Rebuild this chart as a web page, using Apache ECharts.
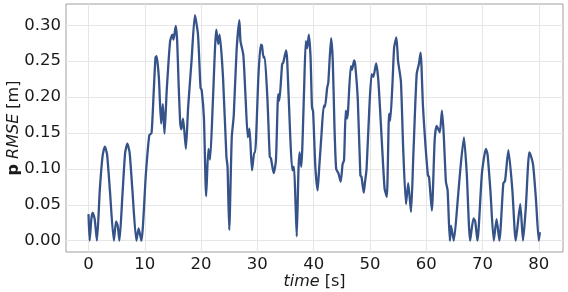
<!DOCTYPE html>
<html>
<head>
<meta charset="utf-8">
<script src="https://cdn.jsdelivr.net/npm/echarts@6/dist/echarts.min.js"></script>
<style>
html,body{margin:0;padding:0;background:#fff;}
#chart{width:568px;height:292px;}
</style>
</head>
<body>
<div id="chart"></div>
<script>
const timeValues = [0.0,0.2,0.5,0.76,1.1,1.5,2.0,2.5,2.9,3.3,3.8,4.5,4.9,5.2,5.5,6.0,6.5,6.9,7.3,7.8,8.5,8.9,9.4,10.2,10.8,11.2,11.6,11.9,12.1,12.5,12.9,13.2,13.5,13.9,14.5,14.9,15.1,15.5,15.75,16.0,16.3,16.5,16.8,17.3,17.7,18.3,18.9,19.45,19.9,20.1,20.5,20.9,21.3,21.6,22.1,22.7,23.05,23.3,23.9,24.5,24.7,25.0,25.45,25.8,26.3,26.8,27.0,27.5,27.9,28.3,28.6,29.05,29.45,29.6,30.2,30.6,30.8,31.1,31.3,31.8,32.2,32.4,32.9,33.3,33.7,33.9,34.4,34.6,35.1,35.3,35.8,36.2,36.5,36.8,37.0,37.3,37.5,37.8,38.3,38.6,38.85,39.15,39.45,39.7,39.9,40.3,40.7,41.0,41.4,41.8,42.0,42.4,42.6,43.1,43.4,43.7,44.0,44.4,44.8,45.15,45.4,45.7,45.9,46.1,46.6,46.8,47.2,47.4,47.85,48.3,48.5,48.9,49.1,49.4,49.9,50.3,50.6,51.1,51.5,52.1,52.6,53.0,53.4,53.6,54.0,54.3,54.7,55.0,55.5,55.9,56.4,56.8,57.3,57.7,58.3,58.7,59.0,59.15,59.4,59.8,60.3,60.5,61.0,61.5,61.85,62.4,62.8,63.1,63.5,63.8,64.2,64.4,64.9,65.6,66.1,66.7,67.2,67.8,68.4,68.7,69.1,69.9,70.6,70.9,71.4,72.0,72.5,73.0,73.7,74.0,74.6,75.3,75.9,76.7,77.2,77.7,78.3,78.6,79.0,79.5,80.0,80.2];
const rmseValues = [0.037,0.0,0.030,0.039,0.030,0.0,0.07,0.118,0.131,0.12,0.07,0.0,0.027,0.02,0.0,0.06,0.122,0.135,0.123,0.07,0.0,0.017,0.0,0.094,0.147,0.150,0.21,0.255,0.257,0.227,0.163,0.190,0.149,0.21,0.278,0.287,0.280,0.299,0.278,0.22,0.163,0.155,0.170,0.128,0.186,0.250,0.314,0.287,0.213,0.210,0.172,0.062,0.128,0.113,0.195,0.294,0.274,0.287,0.227,0.117,0.103,0.015,0.144,0.174,0.264,0.307,0.278,0.259,0.200,0.144,0.156,0.098,0.123,0.123,0.232,0.273,0.272,0.255,0.256,0.195,0.117,0.115,0.094,0.112,0.204,0.195,0.246,0.248,0.265,0.251,0.153,0.098,0.103,0.047,0.006,0.098,0.123,0.103,0.210,0.278,0.268,0.287,0.255,0.186,0.180,0.103,0.070,0.103,0.149,0.188,0.186,0.213,0.22,0.282,0.250,0.158,0.100,0.094,0.082,0.107,0.112,0.181,0.170,0.18,0.243,0.238,0.251,0.244,0.195,0.091,0.089,0.067,0.08,0.10,0.186,0.232,0.228,0.247,0.222,0.140,0.073,0.061,0.177,0.167,0.218,0.269,0.283,0.250,0.222,0.130,0.051,0.080,0.040,0.117,0.232,0.246,0.262,0.245,0.190,0.140,0.091,0.089,0.042,0.140,0.160,0.151,0.181,0.149,0.082,0.07,0.0,0.021,0.0,0.057,0.103,0.144,0.094,0.0,0.031,0.027,0.0,0.094,0.128,0.12,0.07,0.0,0.030,0.0,0.080,0.083,0.126,0.071,0.0,0.051,0.0,0.047,0.123,0.118,0.105,0.057,0.0,0.012];
const xTicks = [0,10,20,30,40,50,60,70,80];
const yTicks = [0,0.05,0.10,0.15,0.20,0.25,0.30];

const seriesData = timeValues.map((t, i) => [t, rmseValues[i]]);
const chart = echarts.init(document.getElementById('chart'), null, {renderer: 'canvas'});
const FONT = 'DejaVu Sans';
chart.setOption({
  animation: false,
  backgroundColor: '#ffffff',
  grid: {left: 66, right: 5, top: 4, bottom: 40, show: true, borderColor: '#a0a0a0', borderWidth: 1, backgroundColor: 'transparent', containLabel: false, outerBoundsMode: 'none'},
  xAxis: {
    type: 'value', min: -4.0, max: 84.3,
    axisLine: {show: false},
    axisTick: {show: false, customValues: xTicks},
    axisLabel: {customValues: xTicks, fontFamily: FONT, fontSize: 16.5, color: '#1a1a1a', margin: 4},
    splitLine: {show: true, lineStyle: {color: '#e6e6e6', width: 1}},
    name: '{i|time} [s]', nameLocation: 'middle', nameGap: 22, nameMoveOverlap: false,
    nameTextStyle: {fontFamily: FONT, fontSize: 16, color: '#1a1a1a', rich: {i: {fontFamily: FONT, fontSize: 16, fontStyle: 'italic', color: '#1a1a1a'}}}
  },
  yAxis: {
    type: 'value', min: -0.0157, max: 0.3296,
    axisLine: {show: false},
    axisTick: {show: false, customValues: yTicks},
    axisLabel: {customValues: yTicks, fontFamily: FONT, fontSize: 16.5, color: '#1a1a1a', margin: 5, formatter: v => v.toFixed(2)},
    splitLine: {show: true, lineStyle: {color: '#e6e6e6', width: 1}},
    name: '{b|p} {i|RMSE} [m]', nameLocation: 'middle', nameGap: 44, nameMoveOverlap: false,
    nameTextStyle: {fontFamily: FONT, fontSize: 16, color: '#1a1a1a', rich: {
      b: {fontFamily: FONT, fontSize: 16, fontWeight: 'bold', color: '#1a1a1a'},
      i: {fontFamily: FONT, fontSize: 16, fontStyle: 'italic', color: '#1a1a1a'}
    }}
  },
  series: [{
    type: 'line', data: seriesData, showSymbol: false, smooth: 0.2,
    lineStyle: {color: '#365389', width: 2.3}, clip: true
  }]
});
</script>
</body>
</html>
